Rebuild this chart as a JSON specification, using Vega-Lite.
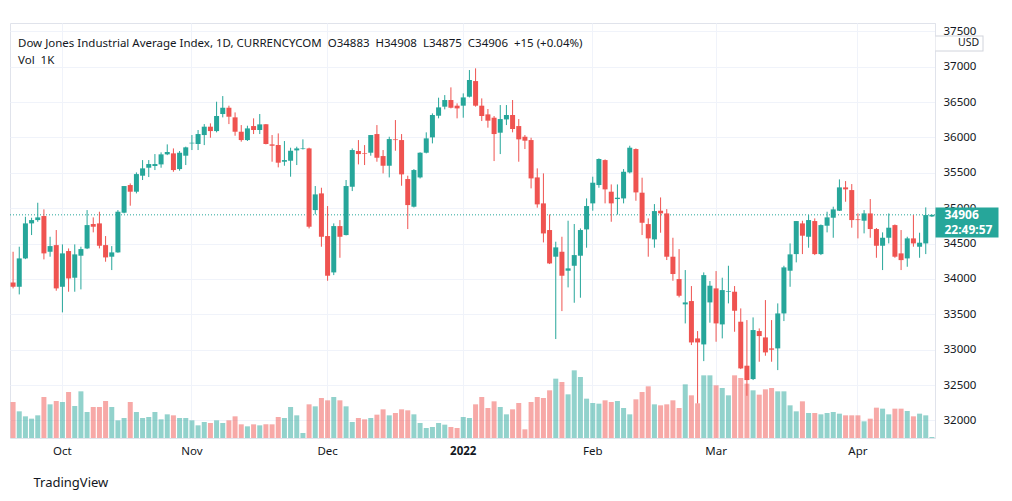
{
  "$schema": "https://vega.github.io/schema/vega-lite/v6.json",
  "width": 925,
  "height": 415,
  "autosize": {"type": "none"},
  "padding": {"left": 10, "top": 23, "right": 77, "bottom": 63},
  "background": "white",
  "config": {
    "view": {"stroke": "#e0e3eb", "strokeWidth": 1},
    "font": "Noto Sans",
    "axis": {"labelFont": "Noto Sans", "titleFont": "Noto Sans"}
  },
  "title": {
    "text": ["Dow Jones Industrial Average Index, 1D, CURRENCYCOM\u00a0\u00a0O34883\u00a0\u00a0H34908\u00a0\u00a0L34875\u00a0\u00a0C34906\u00a0\u00a0+15 (+0.04%)", "Vol\u00a0\u00a01K"],
    "anchor": "start",
    "frame": "group",
    "orient": "top",
    "offset": -43,
    "dx": 8,
    "fontSize": 11.5,
    "fontWeight": "normal",
    "color": "#131722",
    "lineHeight": 17
  },
  "data": {"values": [
    {"d":"2021-09-21","o":33951,"h":34384,"l":33866,"c":33889,"v":108},
    {"d":"2021-09-22","o":33889,"h":34455,"l":33781,"c":34290,"v":80},
    {"d":"2021-09-23","o":34290,"h":34879,"l":34280,"c":34785,"v":65},
    {"d":"2021-09-24","o":34785,"h":34865,"l":34620,"c":34832,"v":58},
    {"d":"2021-09-27","o":34832,"h":35077,"l":34808,"c":34870,"v":68},
    {"d":"2021-09-28","o":34889,"h":34983,"l":34276,"c":34361,"v":123},
    {"d":"2021-09-29","o":34384,"h":34596,"l":34314,"c":34464,"v":101},
    {"d":"2021-09-30","o":34478,"h":34691,"l":33833,"c":33866,"v":111},
    {"d":"2021-10-01","o":33889,"h":34488,"l":33527,"c":34361,"v":108},
    {"d":"2021-10-04","o":34394,"h":34431,"l":33819,"c":34007,"v":138},
    {"d":"2021-10-05","o":34017,"h":34488,"l":33819,"c":34347,"v":96},
    {"d":"2021-10-06","o":34328,"h":34455,"l":33852,"c":34422,"v":140},
    {"d":"2021-10-07","o":34431,"h":34973,"l":34422,"c":34761,"v":78},
    {"d":"2021-10-08","o":34776,"h":34870,"l":34658,"c":34738,"v":93},
    {"d":"2021-10-11","o":34785,"h":34950,"l":34431,"c":34469,"v":93},
    {"d":"2021-10-12","o":34478,"h":34606,"l":34243,"c":34304,"v":111},
    {"d":"2021-10-13","o":34314,"h":34464,"l":34125,"c":34375,"v":93},
    {"d":"2021-10-14","o":34375,"h":34973,"l":34370,"c":34950,"v":53},
    {"d":"2021-10-15","o":34936,"h":35313,"l":34926,"c":35313,"v":60},
    {"d":"2021-10-18","o":35327,"h":35350,"l":35035,"c":35233,"v":108},
    {"d":"2021-10-19","o":35233,"h":35506,"l":35209,"c":35482,"v":78},
    {"d":"2021-10-20","o":35459,"h":35680,"l":35398,"c":35563,"v":60},
    {"d":"2021-10-21","o":35572,"h":35680,"l":35440,"c":35624,"v":63},
    {"d":"2021-10-22","o":35596,"h":35765,"l":35539,"c":35624,"v":78},
    {"d":"2021-10-25","o":35619,"h":35789,"l":35572,"c":35761,"v":56},
    {"d":"2021-10-26","o":35761,"h":35902,"l":35750,"c":35794,"v":71},
    {"d":"2021-10-27","o":35775,"h":35845,"l":35515,"c":35539,"v":68},
    {"d":"2021-10-28","o":35553,"h":35808,"l":35530,"c":35784,"v":60},
    {"d":"2021-10-29","o":35742,"h":35870,"l":35610,"c":35860,"v":60},
    {"d":"2021-11-01","o":35916,"h":36034,"l":35822,"c":35925,"v":53},
    {"d":"2021-11-02","o":35907,"h":36105,"l":35822,"c":36048,"v":38},
    {"d":"2021-11-03","o":36034,"h":36189,"l":35892,"c":36152,"v":48},
    {"d":"2021-11-04","o":36152,"h":36199,"l":35996,"c":36090,"v":45},
    {"d":"2021-11-05","o":36090,"h":36505,"l":36072,"c":36303,"v":53},
    {"d":"2021-11-08","o":36331,"h":36585,"l":36284,"c":36420,"v":45},
    {"d":"2021-11-09","o":36420,"h":36449,"l":36189,"c":36293,"v":53},
    {"d":"2021-11-10","o":36284,"h":36354,"l":36024,"c":36081,"v":65},
    {"d":"2021-11-11","o":36081,"h":36175,"l":35940,"c":35963,"v":41},
    {"d":"2021-11-12","o":35963,"h":36166,"l":35950,"c":36128,"v":35},
    {"d":"2021-11-15","o":36161,"h":36270,"l":36048,"c":36105,"v":41},
    {"d":"2021-11-16","o":36105,"h":36331,"l":36048,"c":36185,"v":38},
    {"d":"2021-11-17","o":36185,"h":36190,"l":35902,"c":35907,"v":41},
    {"d":"2021-11-18","o":35902,"h":36034,"l":35657,"c":35883,"v":41},
    {"d":"2021-11-19","o":35893,"h":36057,"l":35577,"c":35643,"v":63},
    {"d":"2021-11-22","o":35657,"h":35949,"l":35600,"c":35680,"v":60},
    {"d":"2021-11-23","o":35671,"h":35855,"l":35445,"c":35812,"v":93},
    {"d":"2021-11-24","o":35817,"h":35869,"l":35610,"c":35845,"v":68},
    {"d":"2021-11-25","o":35836,"h":35973,"l":35830,"c":35845,"v":15},
    {"d":"2021-11-26","o":35845,"h":35855,"l":34714,"c":34738,"v":101},
    {"d":"2021-11-29","o":34973,"h":35313,"l":34912,"c":35195,"v":95},
    {"d":"2021-11-30","o":35209,"h":35289,"l":34455,"c":34596,"v":120},
    {"d":"2021-12-01","o":34606,"h":35030,"l":33974,"c":34045,"v":113},
    {"d":"2021-12-02","o":34092,"h":34785,"l":34054,"c":34747,"v":123},
    {"d":"2021-12-03","o":34747,"h":34832,"l":34299,"c":34596,"v":113},
    {"d":"2021-12-06","o":34620,"h":35398,"l":34615,"c":35313,"v":95},
    {"d":"2021-12-07","o":35303,"h":35845,"l":35242,"c":35822,"v":48},
    {"d":"2021-12-08","o":35808,"h":35963,"l":35619,"c":35765,"v":60},
    {"d":"2021-12-09","o":35779,"h":35892,"l":35610,"c":35770,"v":56},
    {"d":"2021-12-10","o":35784,"h":36034,"l":35742,"c":36034,"v":60},
    {"d":"2021-12-13","o":36048,"h":36175,"l":35657,"c":35713,"v":70},
    {"d":"2021-12-14","o":35737,"h":35822,"l":35492,"c":35600,"v":86},
    {"d":"2021-12-15","o":35600,"h":36010,"l":35435,"c":35977,"v":68},
    {"d":"2021-12-16","o":35973,"h":36246,"l":35812,"c":35963,"v":75},
    {"d":"2021-12-17","o":35963,"h":36048,"l":35317,"c":35478,"v":86},
    {"d":"2021-12-20","o":35412,"h":35459,"l":34705,"c":35044,"v":83},
    {"d":"2021-12-21","o":35021,"h":35553,"l":35010,"c":35539,"v":71},
    {"d":"2021-12-22","o":35435,"h":35790,"l":35420,"c":35784,"v":45},
    {"d":"2021-12-23","o":35784,"h":36072,"l":35775,"c":35987,"v":30},
    {"d":"2021-12-27","o":36001,"h":36340,"l":35916,"c":36317,"v":33},
    {"d":"2021-12-28","o":36307,"h":36562,"l":36270,"c":36425,"v":45},
    {"d":"2021-12-29","o":36435,"h":36599,"l":36397,"c":36529,"v":40},
    {"d":"2021-12-30","o":36529,"h":36708,"l":36411,"c":36420,"v":33},
    {"d":"2021-12-31","o":36449,"h":36482,"l":36270,"c":36411,"v":30},
    {"d":"2022-01-03","o":36449,"h":36623,"l":36279,"c":36566,"v":63},
    {"d":"2022-01-04","o":36576,"h":36953,"l":36566,"c":36812,"v":60},
    {"d":"2022-01-05","o":36797,"h":36977,"l":36435,"c":36449,"v":101},
    {"d":"2022-01-06","o":36449,"h":36552,"l":36232,"c":36303,"v":123},
    {"d":"2022-01-07","o":36326,"h":36402,"l":36138,"c":36237,"v":90},
    {"d":"2022-01-10","o":36279,"h":36303,"l":35666,"c":36048,"v":110},
    {"d":"2022-01-11","o":36067,"h":36458,"l":35765,"c":36260,"v":93},
    {"d":"2022-01-12","o":36255,"h":36458,"l":36175,"c":36317,"v":71},
    {"d":"2022-01-13","o":36317,"h":36529,"l":36072,"c":36119,"v":86},
    {"d":"2022-01-14","o":36161,"h":36260,"l":35657,"c":35973,"v":105},
    {"d":"2022-01-17","o":36010,"h":36034,"l":35836,"c":35954,"v":26},
    {"d":"2022-01-18","o":35963,"h":35996,"l":35280,"c":35421,"v":108},
    {"d":"2022-01-19","o":35435,"h":35563,"l":35007,"c":35054,"v":123},
    {"d":"2022-01-20","o":35068,"h":35492,"l":34516,"c":34643,"v":120},
    {"d":"2022-01-21","o":34691,"h":34912,"l":34210,"c":34219,"v":143},
    {"d":"2022-01-24","o":34314,"h":34526,"l":33150,"c":34446,"v":178},
    {"d":"2022-01-25","o":34384,"h":34596,"l":33545,"c":34045,"v":168},
    {"d":"2022-01-26","o":34116,"h":34823,"l":33880,"c":34149,"v":131},
    {"d":"2022-01-27","o":34186,"h":34776,"l":33663,"c":34337,"v":203},
    {"d":"2022-01-28","o":34328,"h":34714,"l":33734,"c":34691,"v":183},
    {"d":"2022-01-31","o":34700,"h":35138,"l":34441,"c":35030,"v":118},
    {"d":"2022-02-01","o":35068,"h":35445,"l":34964,"c":35360,"v":105},
    {"d":"2022-02-02","o":35327,"h":35704,"l":35289,"c":35695,"v":103},
    {"d":"2022-02-03","o":35680,"h":35690,"l":35068,"c":35266,"v":113},
    {"d":"2022-02-04","o":35233,"h":35336,"l":34808,"c":35068,"v":108},
    {"d":"2022-02-07","o":35129,"h":35336,"l":34910,"c":35148,"v":111},
    {"d":"2022-02-08","o":35138,"h":35553,"l":35068,"c":35515,"v":90},
    {"d":"2022-02-09","o":35506,"h":35883,"l":35492,"c":35855,"v":71},
    {"d":"2022-02-10","o":35836,"h":35845,"l":35105,"c":35223,"v":116},
    {"d":"2022-02-11","o":35219,"h":35431,"l":34620,"c":34794,"v":138},
    {"d":"2022-02-14","o":34775,"h":34856,"l":34314,"c":34573,"v":155},
    {"d":"2022-02-15","o":34559,"h":35058,"l":34441,"c":34959,"v":101},
    {"d":"2022-02-16","o":34964,"h":35152,"l":34653,"c":34926,"v":98},
    {"d":"2022-02-17","o":34926,"h":34987,"l":34267,"c":34314,"v":101},
    {"d":"2022-02-18","o":34314,"h":34582,"l":33974,"c":34069,"v":113},
    {"d":"2022-02-21","o":33998,"h":34422,"l":33739,"c":33762,"v":90},
    {"d":"2022-02-22","o":33640,"h":34125,"l":33371,"c":33668,"v":161},
    {"d":"2022-02-23","o":33687,"h":33899,"l":33065,"c":33102,"v":128},
    {"d":"2022-02-24","o":33159,"h":33263,"l":32240,"c":33102,"v":104},
    {"d":"2022-02-25","o":33074,"h":34092,"l":32838,"c":34054,"v":188},
    {"d":"2022-02-28","o":33668,"h":33970,"l":33381,"c":33904,"v":188},
    {"d":"2022-03-01","o":33866,"h":34111,"l":33112,"c":33371,"v":158},
    {"d":"2022-03-02","o":33357,"h":34017,"l":33159,"c":33842,"v":150},
    {"d":"2022-03-03","o":33819,"h":34186,"l":33654,"c":33828,"v":128},
    {"d":"2022-03-04","o":33819,"h":33899,"l":33253,"c":33550,"v":188},
    {"d":"2022-03-07","o":33395,"h":33583,"l":32725,"c":32735,"v":180},
    {"d":"2022-03-08","o":32773,"h":33418,"l":32348,"c":32570,"v":163},
    {"d":"2022-03-09","o":32584,"h":33456,"l":32570,"c":33277,"v":143},
    {"d":"2022-03-10","o":33263,"h":33300,"l":32829,"c":33192,"v":130},
    {"d":"2022-03-11","o":33173,"h":33701,"l":32914,"c":32961,"v":146},
    {"d":"2022-03-14","o":33018,"h":33418,"l":32829,"c":32999,"v":150},
    {"d":"2022-03-15","o":33018,"h":33654,"l":32711,"c":33512,"v":140},
    {"d":"2022-03-16","o":33512,"h":34186,"l":33404,"c":34163,"v":140},
    {"d":"2022-03-17","o":34116,"h":34502,"l":33889,"c":34347,"v":98},
    {"d":"2022-03-18","o":34351,"h":34818,"l":34234,"c":34818,"v":80},
    {"d":"2022-03-21","o":34785,"h":34823,"l":34351,"c":34611,"v":110},
    {"d":"2022-03-22","o":34596,"h":34903,"l":34441,"c":34832,"v":75},
    {"d":"2022-03-23","o":34818,"h":34856,"l":34337,"c":34351,"v":75},
    {"d":"2022-03-24","o":34351,"h":34770,"l":34337,"c":34761,"v":71},
    {"d":"2022-03-25","o":34752,"h":34950,"l":34658,"c":34870,"v":75},
    {"d":"2022-03-28","o":34865,"h":35021,"l":34582,"c":34983,"v":78},
    {"d":"2022-03-29","o":34964,"h":35407,"l":34960,"c":35294,"v":73},
    {"d":"2022-03-30","o":35294,"h":35383,"l":35091,"c":35266,"v":68},
    {"d":"2022-03-31","o":35256,"h":35341,"l":34724,"c":34832,"v":68},
    {"d":"2022-04-01","o":34842,"h":34926,"l":34573,"c":34832,"v":68},
    {"d":"2022-04-04","o":34823,"h":34973,"l":34644,"c":34926,"v":50},
    {"d":"2022-04-05","o":34926,"h":35129,"l":34582,"c":34705,"v":58},
    {"d":"2022-04-06","o":34705,"h":34720,"l":34299,"c":34469,"v":91},
    {"d":"2022-04-07","o":34469,"h":34658,"l":34125,"c":34582,"v":88},
    {"d":"2022-04-08","o":34582,"h":34926,"l":34502,"c":34724,"v":71},
    {"d":"2022-04-11","o":34761,"h":34770,"l":34299,"c":34314,"v":88},
    {"d":"2022-04-12","o":34361,"h":34691,"l":34125,"c":34266,"v":88},
    {"d":"2022-04-13","o":34290,"h":34596,"l":34172,"c":34573,"v":81},
    {"d":"2022-04-14","o":34573,"h":34903,"l":34455,"c":34502,"v":65},
    {"d":"2022-04-15","o":34455,"h":34653,"l":34299,"c":34512,"v":73},
    {"d":"2022-04-18","o":34502,"h":35011,"l":34351,"c":34903,"v":68},
    {"d":"2022-04-19","o":34883,"h":34908,"l":34875,"c":34906,"v":3}
  ]},
  "layer": [
    {
      "mark": {"type": "bar", "size": 5, "opacity": 0.5},
      "encoding": {
        "x": {
          "field": "d", "type": "ordinal",
          "scale": {"type": "band", "paddingInner": 0, "paddingOuter": 0},
          "axis": {
            "values": ["2021-10-01", "2021-11-01", "2021-12-01", "2022-01-03", "2022-02-01", "2022-03-01", "2022-04-01"],
            "labelExpr": "datum.value == '2022-01-03' ? '2022' : utcFormat(toDate(datum.value), '%b')",
            "labelFontWeight": {"condition": {"test": "datum.value == '2022-01-03'", "value": "bold"}, "value": "normal"},
            "bandPosition": 0.5,
            "labelAngle": 0,
            "labelFontSize": 11.5,
            "labelColor": "#131722",
            "labelPadding": 7,
            "ticks": false,
            "domain": false,
            "grid": true,
            "gridColor": "#f0f3fa",
            "gridWidth": 1,
            "title": "TradingView",
            "titleAnchor": "start",
            "titleAlign": "left",
            "titleX": 23,
            "titleFontSize": 13,
            "titleFontWeight": "normal",
            "titleColor": "#131722",
            "titlePadding": 20
          }
        },
        "y": {"field": "v", "type": "quantitative", "scale": {"domain": [0, 1245], "nice": false, "zero": true}, "axis": null},
        "color": {"condition": {"test": "datum.c >= datum.o", "value": "#26a69a"}, "value": "#ef5350"}
      }
    },
    {
      "layer": [
        {
          "data": {"values": [{"p": 34906}]},
          "mark": {"type": "rule", "strokeDash": [1, 2], "color": "#26a69a", "strokeWidth": 1},
          "encoding": {
            "y": {
              "field": "p", "type": "quantitative",
              "scale": {"domain": [31751, 37618], "nice": false, "zero": false},
              "axis": {
                "orient": "right",
                "values": [34906, 37439.9, 37440],
                "labelExpr": "datum.value == 34906 ? ['34906', '22:49:57'] : (datum.value == 37440 ? 'USD' : '')",
                "grid": false,
                "domain": false,
                "tickOffset": 7,
                "tickSize": {"condition": [{"test": "datum.value == 34906", "value": 63}, {"test": "datum.value == 37440", "value": 47}], "value": 48},
                "tickWidth": {"condition": [{"test": "datum.value == 34906", "value": 30}, {"test": "datum.value == 37440", "value": 14}], "value": 16},
                "tickColor": {"condition": [{"test": "datum.value == 34906", "value": "#26a69a"}, {"test": "datum.value == 37440", "value": "white"}], "value": "#d1d4dc"},
                "labelColor": {"condition": {"test": "datum.value == 34906", "value": "white"}, "value": "#131722"},
                "labelPadding": {"condition": {"test": "datum.value == 34906", "value": -54}, "value": -14},
                "labelAlign": {"condition": {"test": "datum.value == 34906", "value": "left"}, "value": "center"},
                "labelFontSize": {"condition": {"test": "datum.value == 34906", "value": 12}, "value": 10.5},
                "labelFontWeight": {"condition": {"test": "datum.value == 34906", "value": "bold"}, "value": "normal"},
                "labelBaseline": "middle",
                "labelOffset": {"condition": {"test": "datum.value == 34906", "value": -7}, "value": 0},
                "labelLineHeight": 15,
                "labelOverlap": false,
                "title": null,
                "zindex": 3
              }
            }
          }
        },
        {
          "mark": {"type": "rule", "strokeWidth": 1},
          "encoding": {
            "x": {"field": "d", "type": "ordinal"},
            "y": {
              "field": "l", "type": "quantitative",
              "axis": {
                "orient": "right",
                "values": [32000, 32500, 33000, 33500, 34000, 34500, 35000, 35500, 36000, 36500, 37000, 37500],
                "format": "d",
                "grid": true,
                "gridColor": "#f0f3fa",
                "ticks": false,
                "domain": true,
                "domainColor": "#e0e3eb",
                "labelFontSize": 11.5,
                "labelColor": "#131722",
                "labelPadding": 8,
                "labelBaseline": "middle",
                "labelOverlap": false,
                "title": null,
                "zindex": 0
              }
            },
            "y2": {"field": "h"},
            "color": {"condition": {"test": "datum.c >= datum.o", "value": "#26a69a"}, "value": "#ef5350"}
          }
        },
        {
          "mark": {"type": "bar", "size": 5},
          "encoding": {
            "x": {"field": "d", "type": "ordinal"},
            "y": {"field": "o", "type": "quantitative", "axis": null},
            "y2": {"field": "c"},
            "color": {"condition": {"test": "datum.c >= datum.o", "value": "#26a69a"}, "value": "#ef5350"}
          }
        }
      ],
      "resolve": {"axis": {"y": "independent"}}
    }
  ],
  "resolve": {"scale": {"y": "independent"}}
}
